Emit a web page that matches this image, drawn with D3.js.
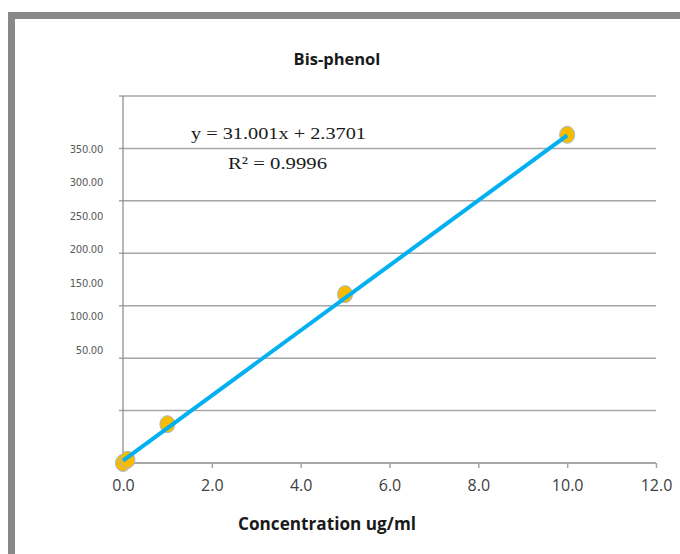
<!DOCTYPE html>
<html>
<head>
<meta charset="utf-8">
<script src="https://cdn.jsdelivr.net/npm/d3@7"></script>
<style>
  body { margin: 0; background: #fff; }
  svg { display: block; }
</style>
</head>
<body>
<div class="chart"></div>
<script>
var w = 680;
var h = 554;

// data
var concentration = [0, 0.1, 1, 5, 10];
var response = [0, 3, 37, 161, 313];
var slope = 31.001, intercept = 2.3701; // trendline from the chart
var xTicks = [0, 2, 4, 6, 8, 10, 12];
var gridValues = [0, 50, 100, 150, 200, 250, 300, 350];
var yLabels = ["350.00", "300.00", "250.00", "200.00", "150.00", "100.00", "50.00"]; // (they sit off the grid in the original)
var title = "Bis-phenol";
var xTitle = "Concentration ug/ml";
var eqText = "y = 31.001x + 2.3701";
var r2Text = "R\u00B2 = 0.9996";

var svg = d3.select(".chart").append("svg")
    .attr("width", w)
    .attr("height", h);

// gray frame at top and left
svg.append("rect").attr("x", 8).attr("y", 12).attr("width", w - 8).attr("height", 7).attr("fill", "#888");
svg.append("rect").attr("x", 8).attr("y", 12).attr("width", 7).attr("height", h - 12).attr("fill", "#888");

var x = d3.scaleLinear().domain([0, 12]).range([123, 656]);
var y = d3.scaleLinear().domain([0, 350]).range([463, 96]);
var yLab = d3.scalePoint().domain(yLabels).range([149, 350]);

// gridlines (with small tick stub left of the axis)
svg.selectAll(".grid")
    .data(gridValues.filter(function(d){ return d > 0; }))
    .enter().append("line")
    .attr("class", "grid")
    .attr("x1", x(0) - 4).attr("x2", x(12))
    .attr("y1", function(d){ return y(d); }).attr("y2", function(d){ return y(d); })
    .attr("stroke", "#a6a6a6").attr("stroke-width", 1.5);

// y axis line
svg.append("line")
    .attr("x1", x(0)).attr("x2", x(0))
    .attr("y1", y(350)).attr("y2", y(0))
    .attr("stroke", "#868686").attr("stroke-width", 1.2);

// x axis
var xAxis = d3.axisBottom(x).tickValues(xTicks).tickSize(5).tickPadding(12)
    .tickFormat(d3.format(".1f"));
var gx = svg.append("g").attr("transform", "translate(0," + y(0) + ")").call(xAxis);
gx.select(".domain").attr("stroke", "#a6a6a6").attr("stroke-width", 2).attr("d", "M" + x(0) + ",0H" + x(12));
gx.selectAll(".tick line").attr("stroke", "#a6a6a6").attr("stroke-width", 1.5);
gx.selectAll(".tick text")
    .attr("fill", "#404040")
    .style("font-family", "'Open Sans', sans-serif")
    .style("font-size", "16px");

// y labels
svg.selectAll(".ylab")
    .data(yLabels)
    .enter().append("text")
    .attr("class", "ylab")
    .attr("x", 103)
    .attr("y", function(d){ return yLab(d); })
    .attr("dy", "0.35em")
    .attr("text-anchor", "end")
    .attr("fill", "#595959")
    .style("font-family", "'DejaVu Sans', sans-serif")
    .style("font-size", "10px")
    .style("letter-spacing", "-0.3px")
    .text(function(d){ return d; });

// points
var pts = concentration.map(function(c, i){ return {c: c, v: response[i]}; });
svg.selectAll(".pt")
    .data(pts)
    .enter().append("ellipse")
    .attr("class", "pt")
    .attr("cx", function(d){ return x(d.c); })
    .attr("cy", function(d){ return y(d.v); })
    .attr("rx", 7.5).attr("ry", 8.5)
    .attr("fill", "#f8bb00")
    .attr("stroke", "#9fb8d2").attr("stroke-width", 1);

// trendline sits on top of the marks in the original
svg.append("line")
    .attr("x1", x(0)).attr("y1", y(intercept))
    .attr("x2", x(10)).attr("y2", y(slope * 10 + intercept))
    .attr("stroke", "#00b0f0").attr("stroke-width", 4);

// title and axis title
svg.append("text").text(title)
    .attr("x", 337).attr("y", 65)
    .attr("text-anchor", "middle")
    .attr("fill", "#1a1a1a")
    .style("font-family", "'Open Sans', sans-serif")
    .style("font-weight", "bold")
    .style("font-size", "16.5px");

svg.append("text").text(xTitle)
    .attr("x", 327).attr("y", 530)
    .attr("text-anchor", "middle")
    .attr("fill", "#1a1a1a")
    .attr("textLength", 178).attr("lengthAdjust", "spacingAndGlyphs")
    .style("font-family", "'Open Sans', sans-serif")
    .style("font-weight", "bold")
    .style("font-size", "17px");

// regression equation
svg.append("text").text(eqText)
    .attr("x", 191).attr("y", 139)
    .attr("fill", "#1a1a1a")
    .attr("textLength", 175).attr("lengthAdjust", "spacingAndGlyphs")
    .style("font-family", "'Liberation Serif', serif")
    .style("font-size", "17px");

svg.append("text").text(r2Text)
    .attr("x", 228).attr("y", 169)
    .attr("fill", "#1a1a1a")
    .attr("textLength", 99).attr("lengthAdjust", "spacingAndGlyphs")
    .style("font-family", "'Liberation Serif', serif")
    .style("font-size", "17px");
</script>
</body>
</html>
